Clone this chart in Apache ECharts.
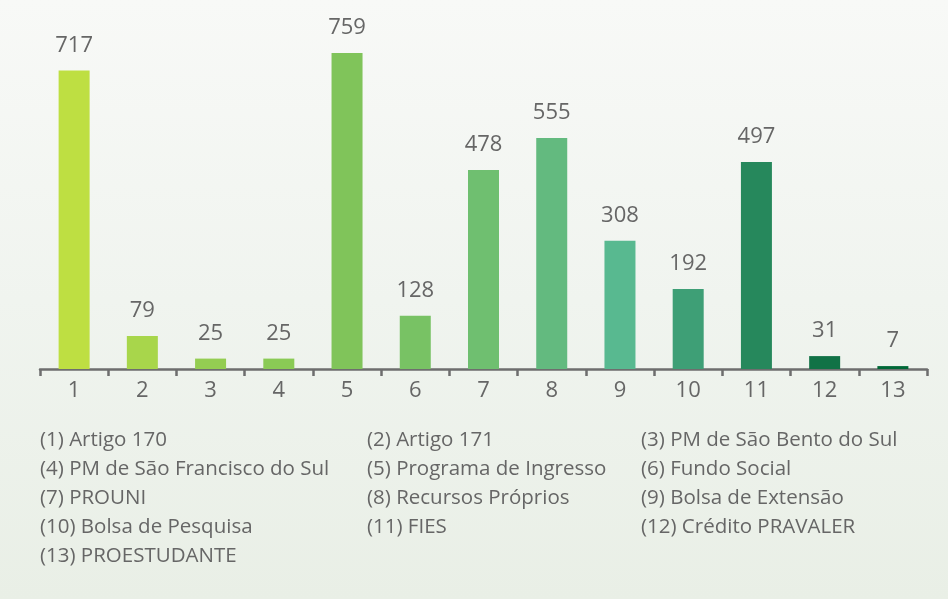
<!DOCTYPE html>
<html>
<head>
<meta charset="utf-8">
<script src="https://cdn.jsdelivr.net/npm/echarts@6/dist/echarts.min.js"></script>
<style>
  html, body { margin: 0; padding: 0; }
  #chart { width: 948px; height: 599px; }
</style>
</head>
<body>
<div id="chart"></div>
<script>
const categories = ["1", "2", "3", "4", "5", "6", "7", "8", "9", "10", "11", "12", "13"];
const values = [717, 79, 25, 25, 759, 128, 478, 555, 308, 192, 497, 31, 7];
const barColors = ["#bedf42", "#a8d64b", "#94cd52", "#8aca55", "#80c45a", "#78c264", "#6fbf70",
  "#63ba7f", "#58b990", "#3e9f76", "#26885c", "#117246", "#006837"];
const legendLabels = [
  "(1) Artigo 170", "(2) Artigo 171", "(3) PM de São Bento do Sul",
  "(4) PM de São Francisco do Sul", "(5) Programa de Ingresso", "(6) Fundo Social",
  "(7) PROUNI", "(8) Recursos Próprios", "(9) Bolsa de Extensão",
  "(10) Bolsa de Pesquisa", "(11) FIES", "(12) Crédito PRAVALER",
  "(13) PROESTUDANTE"
];

const chart = echarts.init(document.getElementById("chart"));
const textColor = "#666666";
const font = "'Open Sans', sans-serif";

// legend text laid out in three columns
const colX = [40, 367, 641];
const legendText = legendLabels.map((label, i) => ({
  type: "text",
  left: colX[i % 3],
  top: 430 + Math.floor(i / 3) * 29,
  style: { text: label, fill: textColor, font: "20.5px " + font }
}));

const option = {
  backgroundColor: {
    type: "linear", x: 0, y: 0, x2: 0, y2: 1,
    colorStops: [
      { offset: 0, color: "#f8f9f7" },
      { offset: 0.5, color: "#f0f4ef" },
      { offset: 1, color: "#e9efe6" }
    ]
  },
  animation: false,
  grid: { left: 40, right: 21, top: 36, bottom: 230 },
  xAxis: {
    type: "category",
    data: categories,
    axisLine: { lineStyle: { color: "#6e6e6e", width: 2.5 } },
    axisTick: { show: true, length: 7, lineStyle: { color: "#6e6e6e", width: 2.5 } },
    axisLabel: { color: textColor, fontSize: 22, fontFamily: font, margin: 11 }
  },
  yAxis: {
    type: "value", min: 0, max: 800, show: false
  },
  series: [{
    type: "bar",
    barWidth: 31,
    data: values.map((v, i) => ({ value: v, itemStyle: { color: barColors[i] } })),
    label: {
      show: true, position: "top", distance: 14,
      color: textColor, fontSize: 22, fontFamily: font
    }
  }],
  graphic: legendText
};

chart.setOption(option);
</script>
</body>
</html>
